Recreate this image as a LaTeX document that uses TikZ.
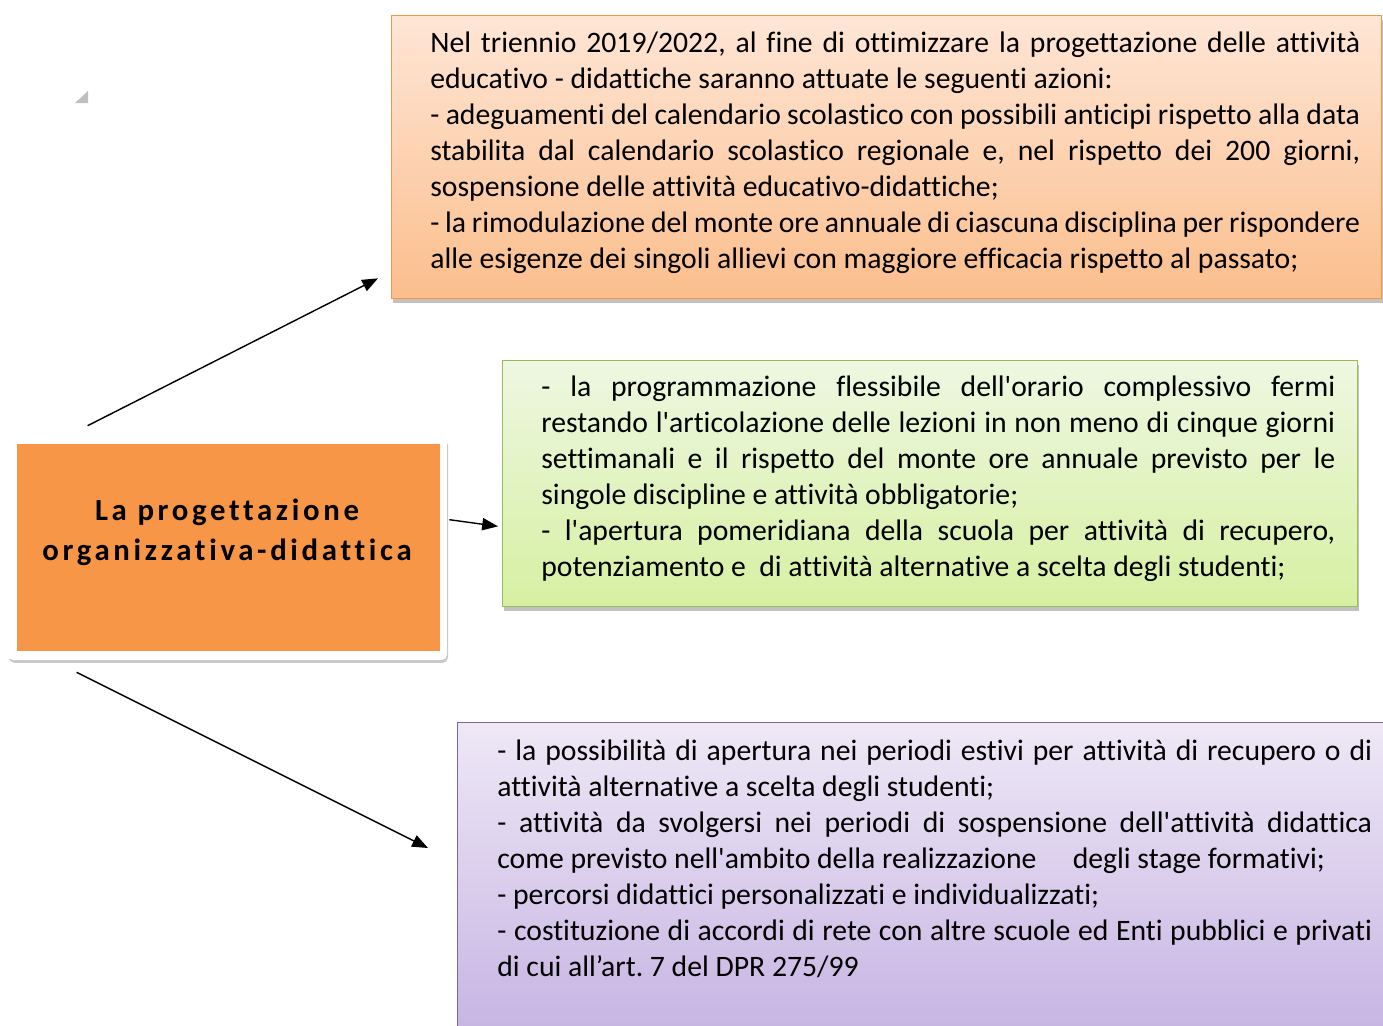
\documentclass[tikz,border=0pt]{standalone}
\usepackage{fontspec}
\setmainfont{Carlito}
\newfontfamily\bodyfont{Carlito}[Ligatures={NoCommon}]
\newfontfamily\hubfont{Carlito}[LetterSpace=12, Ligatures={NoCommon}]
\usetikzlibrary{arrows.meta, shadows, positioning, calc}
\definecolor{hubfill}{HTML}{F79646}
\definecolor{planline}{HTML}{F79646}
\definecolor{plantop}{HTML}{FEE6D6}
\definecolor{planbot}{HTML}{FBBE8C}
\definecolor{flexline}{HTML}{9BBB59}
\definecolor{flextop}{HTML}{EEF7E1}
\definecolor{flexbot}{HTML}{D6F0A2}
\definecolor{estline}{HTML}{8064A2}
\definecolor{esttop}{HTML}{EEE8F6}
\definecolor{estbot}{HTML}{C5B2E2}
\hyphenpenalty=10000
\tolerance=10000
\frenchspacing

\begin{document}
\begin{tikzpicture}[x=0.02cm, y=-0.02cm,
  box/.style={rectangle, anchor=north west, line width=0.8pt, inner sep=0pt,
    drop shadow={shadow xshift=0.6pt, shadow yshift=-2.2pt, opacity=0.35, fill=black!70}},
  txt/.style={anchor=base west, inner sep=0pt, align=justify,
    font=\bodyfont\fontsize{16.9}{20.5}\selectfont},
  arrow/.style={-{Triangle[length=9pt, width=7pt]}, line width=0.8pt, color=black}
]
\useasboundingbox (0,0) rectangle (1383,1025);

% hub
\node[rectangle, fill=white, rounded corners=3pt, minimum width=8.78cm, minimum height=4.46cm,
  drop shadow={shadow xshift=0.6pt, shadow yshift=-1.6pt, opacity=0.3, fill=black!70}] (hubbg) at (227.5,548.5) {};
\node[rectangle, fill=hubfill, minimum width=8.46cm, minimum height=4.14cm] (hub) at (228.5,547.5) {};
\node[align=center, inner sep=0pt, font=\hubfont\bfseries\fontsize{17.5}{22.8}\selectfont]
  (hubtxt) at (227,532) {La progettazione\\organizzativa-didattica};

% boxes
\node[box, draw=planline, top color=plantop, bottom color=planbot,
  minimum width=19.8cm, minimum height=5.66cm] (plan) at (391,15) {};
\node[box, draw=flexline, top color=flextop, bottom color=flexbot,
  minimum width=17.1cm, minimum height=4.92cm] (flex) at (502,360) {};
\node[box, draw=estline, top color=esttop, bottom color=estbot,
  minimum width=18.86cm, minimum height=6.46cm] (est) at (457,722) {};

\node[txt, text width=18.6cm] (plantxt) at ([shift={(39,37)}]plan.north west) {%
Nel triennio 2019/2022, al fine di ottimizzare la progettazione delle attività\linebreak
educativo - didattiche saranno attuate le seguenti azioni:\\
- adeguamenti del calendario scolastico con possibili anticipi rispetto alla data\linebreak
stabilita dal calendario scolastico regionale e, nel rispetto dei 200 giorni,\linebreak
sospensione delle attività educativo-didattiche;\\
- la rimodulazione del monte ore annuale di ciascuna disciplina per rispondere\linebreak
alle esigenze dei singoli allievi con maggiore efficacia rispetto al passato;};

\node[txt, text width=15.88cm] (flextxt) at ([shift={(39,36)}]flex.north west) {%
- la programmazione flessibile dell'orario complessivo fermi\linebreak
restando l'articolazione delle lezioni in non meno di cinque giorni\linebreak
settimanali e il rispetto del monte ore annuale previsto per le\linebreak
singole discipline e attività obbligatorie;\\
- l'apertura pomeridiana della scuola per attività di recupero,\linebreak
potenziamento e\ \ di attività alternative a scelta degli studenti;};

\node[txt, text width=17.5cm] (esttxt) at ([shift={(40,38)}]est.north west) {%
- la possibilità di apertura nei periodi estivi per attività di recupero o di\linebreak
attività alternative a scelta degli studenti;\\
- attività da svolgersi nei periodi di sospensione dell'attività didattica\linebreak
come previsto nell'ambito della realizzazione\quad\ degli stage formativi;\\
- percorsi didattici personalizzati e individualizzati;\\
- costituzione di accordi di rete con altre scuole ed Enti pubblici e privati\linebreak
di cui all’art. 7 del DPR 275/99};

% connectors
\draw[arrow] ([shift={(80,-11)}]hubbg.north west) -- ([shift={(-13,-21)}]plan.south west);
\draw[arrow] ([shift={(2,83)}]hubbg.north east) -- ([shift={(-4,-81)}]flex.south west);
\draw[arrow] ([shift={(69,12)}]hubbg.south west) -- ([shift={(-29,126)}]est.north west);

\fill[black!25] (88,91) -- (88,103) -- (75,103) -- cycle;
\end{tikzpicture}
\end{document}
